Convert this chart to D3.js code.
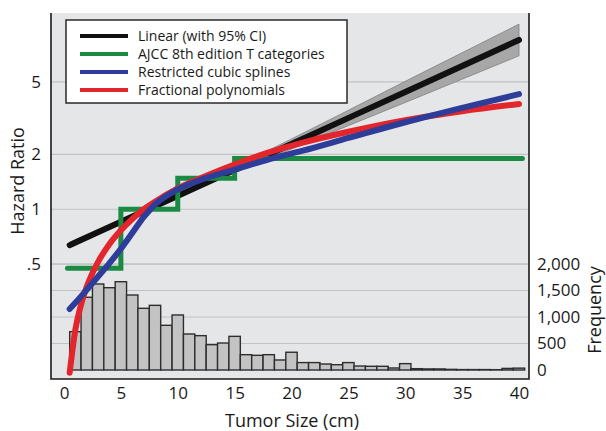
<!DOCTYPE html>
<html><head><meta charset="utf-8">
<script src="https://cdn.jsdelivr.net/npm/d3@7"></script>
<style>body{margin:0;background:#fff}text{font-family:"Open Sans","Noto Sans",sans-serif;fill:#1a1a1a}</style>
</head><body>
<svg id="c" width="606" height="431"></svg>
<script>
// ---- data ----
const sizeGrid      = [0.5, 1, 1.5, 2, 3, 4, 5, 6, 7, 8, 10, 12, 15, 18, 21, 25, 30, 35, 40];
const hrFractional  = [0.127, 0.219, 0.300, 0.376, 0.515, 0.645, 0.767, 0.885, 0.998, 1.10, 1.30, 1.48, 1.76, 2.05, 2.32, 2.66, 3.08, 3.45, 3.78];
const hrSplines     = [0.284, 0.307, 0.333, 0.362, 0.428, 0.507, 0.607, 0.741, 0.905, 1.062, 1.284, 1.448, 1.649, 1.878, 2.096, 2.46, 3.0, 3.6, 4.28];
const linearSizes   = [0.5, 8, 20, 30, 40];
const hrLinear      = [0.636, 1.04, 2.28, 4.40, 8.48];
const hrLinearLower = [0.612, 1.02, 2.14, 3.85, 6.94];
const hrLinearUpper = [0.660, 1.06, 2.43, 5.03, 10.36];
const ajccBreaks    = [0.3, 5, 10, 15, 40.3];
const hrAjcc        = [0.475, 1.0, 1.48, 1.9];
const binCenters    = [1,2,3,4,5,6,7,8,9,10,11,12,13,14,15,16,17,18,19,20,21,22,23,24,25,26,27,28,29,30,31,32,33,34,35,36,37,38,39,40];
const frequency     = [723,1372,1623,1553,1666,1415,1164,1220,843,1038,679,648,478,509,635,289,277,289,189,335,140,140,113,100,140,75,70,70,38,120,25,20,20,12,8,8,8,6,30,35];
const sizeTicks     = [0, 5, 10, 15, 20, 25, 30, 35, 40];
const hrTicks       = [0.5, 1, 2, 5];
const hrTickLabels  = [".5", "1", "2", "5"];
const freqTicks     = [0, 500, 1000, 1500, 2000];
const freqTickLabels= ["0", "500", "1,000", "1,500", "2,000"];
const legendLabels  = ["Linear (with 95% CI)", "AJCC 8th edition T categories", "Restricted cubic splines", "Fractional polynomials"];
const colors        = {linear:"#111111", ajcc:"#1b8a43", rcs:"#2e3d9a", fp:"#e3262b"};

// ---- layout ----
const svg = d3.select("#c");
const L = 51, R = 529, T = 13, B = 379;
const x  = d3.scaleLinear([0, 40], [64, 519]);
const yH = d3.scaleLog([0.1173, 11.92], [B, T]);
const yF = d3.scaleLinear([0, 2000], [370, 264]);

svg.append("rect").attr("x", L).attr("y", T).attr("width", R - L).attr("height", B - T).attr("fill", "#e5e6e8");

// gridlines
svg.append("g").selectAll("line").data(hrTicks).join("line")
  .attr("x1", L).attr("x2", R).attr("y1", d => yH(d)).attr("y2", d => yH(d))
  .attr("stroke", "#c2c2c4").attr("stroke-width", 1.2);
svg.append("g").selectAll("line").data(freqTicks.slice(1)).join("line")
  .attr("x1", L).attr("x2", R).attr("y1", d => yF(d)).attr("y2", d => yF(d))
  .attr("stroke", "#c2c2c4").attr("stroke-width", 1.2);

// histogram
svg.append("g").selectAll("rect").data(binCenters).join("rect")
  .attr("x", d => x(d - 0.5)).attr("width", d => x(d + 0.5) - x(d - 0.5))
  .attr("y", (d, i) => yF(frequency[i])).attr("height", (d, i) => yF(0) - yF(frequency[i]))
  .attr("fill", "#c3c3c4").attr("stroke", "#2e2e2e").attr("stroke-width", 1.4);

// CI band
const area = d3.area().curve(d3.curveMonotoneX)
  .x((d, i) => x(linearSizes[i])).y0((d, i) => yH(hrLinearLower[i])).y1((d, i) => yH(hrLinearUpper[i]));
svg.append("path").datum(linearSizes).attr("d", area)
  .attr("fill", "#a7a7a8").attr("stroke", "#808080").attr("stroke-width", 0.8);

const line = d3.line().curve(d3.curveMonotoneX).x(d => x(d[0])).y(d => yH(d[1]));

svg.append("path").datum(linearSizes.map((s, i) => [s, hrLinear[i]])).attr("d", line)
  .attr("fill", "none").attr("stroke", colors.linear).attr("stroke-width", 6).attr("stroke-linecap", "round");

// AJCC steps
const stepPts = [];
hrAjcc.forEach((h, i) => { stepPts.push([ajccBreaks[i], h]); stepPts.push([ajccBreaks[i + 1], h]); });
svg.append("path").datum(stepPts).attr("d", d3.line().x(d => x(d[0])).y(d => yH(d[1])))
  .attr("fill", "none").attr("stroke", colors.ajcc).attr("stroke-width", 5).attr("stroke-linecap", "round").attr("stroke-linejoin", "miter");

svg.append("path").datum(sizeGrid.map((s, i) => [s, hrFractional[i]])).attr("d", line)
  .attr("fill", "none").attr("stroke", colors.fp).attr("stroke-width", 6).attr("stroke-linecap", "round");
svg.append("path").datum(sizeGrid.map((s, i) => [s, hrSplines[i]])).attr("d", line)
  .attr("fill", "none").attr("stroke", colors.rcs).attr("stroke-width", 6).attr("stroke-linecap", "round");

// frame (left, bottom, right)
svg.append("path").attr("d", `M${L},${T}V${B}H${R}V${T}`).attr("fill", "none").attr("stroke", "#1a1a1a").attr("stroke-width", 1.6);

// axes
const fs = "17px";
const ax = svg.append("g").attr("transform", `translate(${L},0)`)
  .call(d3.axisLeft(yH).tickValues(hrTicks).tickFormat((d, i) => hrTickLabels[i]).tickSize(0).tickPadding(10));
ax.select(".domain").remove();
ax.selectAll("text").attr("font-size", fs).attr("font-family", null);

const bx = svg.append("g").attr("transform", `translate(0,${B})`)
  .call(d3.axisBottom(x).tickValues(sizeTicks).tickFormat(d3.format("d")).tickSize(0).tickPadding(8));
bx.select(".domain").remove();
bx.selectAll("text").attr("font-size", fs).attr("font-family", null);

const rx = svg.append("g").attr("transform", `translate(${R},0)`)
  .call(d3.axisRight(yF).tickValues(freqTicks).tickFormat((d, i) => freqTickLabels[i]).tickSize(0).tickPadding(8));
rx.select(".domain").remove();
rx.selectAll("text").attr("font-size", fs).attr("font-family", null);

svg.append("text").attr("transform", "translate(24,181) rotate(-90)").attr("text-anchor", "middle")
  .attr("font-size", "18px").text("Hazard Ratio");
svg.append("text").attr("x", 292).attr("y", 427).attr("text-anchor", "middle")
  .attr("font-size", "18px").text("Tumor Size (cm)");
svg.append("text").attr("transform", "translate(601,310) rotate(-90)").attr("text-anchor", "middle")
  .attr("font-size", "18px").text("Frequency");

// legend
const lg = svg.append("g");
lg.append("rect").attr("x", 66).attr("y", 20).attr("width", 281).attr("height", 83)
  .attr("fill", "#fff").attr("stroke", "#2a2a2a").attr("stroke-width", 1.5);
const legendColors = [colors.linear, colors.ajcc, colors.rcs, colors.fp];
const rowY = d3.scalePoint().domain(d3.range(legendLabels.length)).range([36, 90]);
legendLabels.forEach((lab, i) => {
  lg.append("line").attr("x1", 80).attr("x2", 128).attr("y1", rowY(i)).attr("y2", rowY(i))
    .attr("stroke", legendColors[i]).attr("stroke-width", 4);
  lg.append("text").attr("x", 138).attr("y", rowY(i)).attr("dy", "0.35em").attr("font-size", "14px").text(lab);
});
</script>
</body></html>
